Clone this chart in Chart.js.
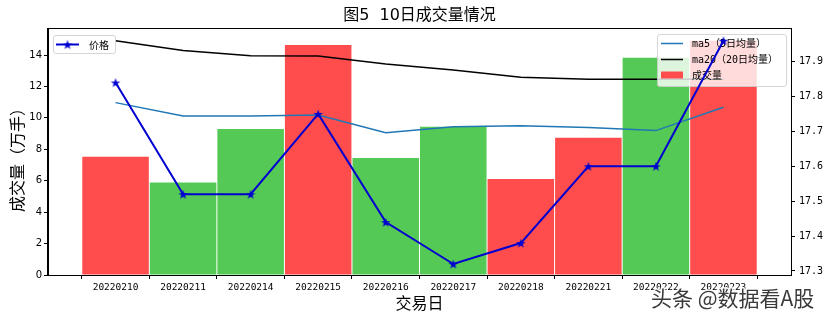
<!DOCTYPE html>
<html>
<head>
<meta charset="utf-8">
<script src="https://cdn.jsdelivr.net/npm/chart.js@4.4.1/dist/chart.umd.min.js"></script>
<style>
html,body{margin:0;padding:0;background:#fff;}
canvas{display:block;}
</style>
</head>
<body>
<canvas id="c" width="829" height="319"></canvas>
<script>
// ---- data ----
const dates = ['20220210','20220211','20220214','20220215','20220216','20220217','20220218','20220221','20220222','20220223'];
const volume = [7.53, 5.88, 9.29, 14.64, 7.45, 9.44, 6.11, 8.74, 13.83, 14.91];
const direction = ['up','down','down','up','down','down','up','up','down','up'];
const ma5 = [10.97, 10.12, 10.12, 10.18, 9.06, 9.44, 9.50, 9.38, 9.19, 10.67];
const ma20 = [14.90, 14.28, 13.96, 13.94, 13.43, 13.05, 12.58, 12.45, 12.45, 12.45];
const price = [17.84, 17.52, 17.52, 17.75, 17.44, 17.32, 17.38, 17.60, 17.60, 17.96];
const leftTicks = [0, 2, 4, 6, 8, 10, 12, 14];
const rightTicks = [17.3, 17.4, 17.5, 17.6, 17.7, 17.8, 17.9];

// ---- styles ----
const RED = '#ff4c4c', GREEN = '#55c955';
const PRICE_COLOR = '#0000d0', MA5_COLOR = '#1f77b4', MA20_COLOR = '#000000';
const MONO = '"DejaVu Sans Mono", "Noto Sans CJK SC", monospace';
const CJK = '"Noto Sans CJK SC", "DejaVu Sans", sans-serif';
const LATIN_CJK = '"DejaVu Sans", "Noto Sans CJK SC", sans-serif';

function makeStar(r, color) {
  const s = Math.ceil(r * 2) + 2;
  const c = document.createElement('canvas');
  c.width = s; c.height = s;
  const g = c.getContext('2d');
  g.translate(s / 2, s / 2 + 0.5);
  g.beginPath();
  for (let i = 0; i < 10; i++) {
    const rad = i % 2 ? r * 0.4 : r;
    const a = -Math.PI / 2 + i * Math.PI / 5;
    g.lineTo(rad * Math.cos(a), rad * Math.sin(a));
  }
  g.closePath();
  g.fillStyle = color;
  g.fill();
  return c;
}
const star = makeStar(5, PRICE_COLOR);

const toXY = arr => arr.map((v, i) => ({x: i, y: v}));

function roundRect(ctx, x, y, w, h, r) {
  ctx.beginPath();
  ctx.moveTo(x + r, y);
  ctx.lineTo(x + w - r, y);
  ctx.quadraticCurveTo(x + w, y, x + w, y + r);
  ctx.lineTo(x + w, y + h - r);
  ctx.quadraticCurveTo(x + w, y + h, x + w - r, y + h);
  ctx.lineTo(x + r, y + h);
  ctx.quadraticCurveTo(x, y + h, x, y + h - r);
  ctx.lineTo(x, y + r);
  ctx.quadraticCurveTo(x, y, x + r, y);
  ctx.closePath();
}
function legendFrame(ctx, x, y, w, h) {
  roundRect(ctx, x, y, w, h, 2.5);
  ctx.fillStyle = 'rgba(255,255,255,0.8)';
  ctx.fill();
  ctx.strokeStyle = 'rgba(204,204,204,0.8)';
  ctx.lineWidth = 1;
  ctx.stroke();
}

const decor = {
  id: 'decor',
  beforeDatasetDraw(chart, args) {
    if (args.index !== 3) return;
    // legend for volume axis (drawn under price line)
    const ctx = chart.ctx;
    ctx.save();
    legendFrame(ctx, 657.5, 34.5, 129, 52);
    ctx.lineWidth = 1.5;
    ctx.strokeStyle = MA5_COLOR;
    ctx.beginPath(); ctx.moveTo(661, 43.5); ctx.lineTo(683, 43.5); ctx.stroke();
    ctx.strokeStyle = MA20_COLOR;
    ctx.beginPath(); ctx.moveTo(661, 59.5); ctx.lineTo(683, 59.5); ctx.stroke();
    ctx.fillStyle = RED;
    ctx.fillRect(661, 71.5, 22, 7);
    ctx.fillStyle = '#000';
    ctx.font = '10px ' + MONO;
    ctx.textBaseline = 'middle';
    ctx.textAlign = 'left';
    ctx.fillText('ma5（5日均量）', 692, 44);
    ctx.fillText('ma20（20日均量）', 692, 60);
    ctx.fillText('成交量', 692, 76);
    ctx.restore();
  },
  afterDatasetsDraw(chart) {
    const ctx = chart.ctx;
    const a = chart.chartArea;
    ctx.save();
    // frame
    ctx.strokeStyle = '#000';
    ctx.lineWidth = 1;
    ctx.strokeRect(Math.round(a.left) - 0.5, Math.round(a.top) - 0.5, Math.round(a.right - a.left) + 1, Math.round(a.bottom - a.top) + 1);
    // price legend
    legendFrame(ctx, 53.5, 35.5, 62, 18);
    ctx.strokeStyle = PRICE_COLOR;
    ctx.lineWidth = 2;
    ctx.beginPath(); ctx.moveTo(56, 44.5); ctx.lineTo(79, 44.5); ctx.stroke();
    ctx.drawImage(star, 67.5 - star.width / 2, 44.5 - star.height / 2);
    ctx.fillStyle = '#000';
    ctx.font = '10px ' + CJK;
    ctx.textBaseline = 'middle';
    ctx.fillText('价格', 89, 45);
    ctx.restore();
  },
  afterDraw(chart) {
    const ctx = chart.ctx;
    const a = chart.chartArea;
    const cx = (a.left + a.right) / 2;
    ctx.save();
    ctx.fillStyle = '#000';
    ctx.textAlign = 'center';
    ctx.textBaseline = 'middle';
    ctx.font = '16px ' + LATIN_CJK;
    ctx.fillText('图5  10日成交量情况', cx, 16);
    ctx.font = '16px ' + CJK;
    ctx.fillText('交易日', cx, 303);
    ctx.save();
    ctx.translate(17, (a.top + a.bottom) / 2 + 4);
    ctx.rotate(-Math.PI / 2);
    ctx.fillText('成交量（万手）', 0, 0);
    ctx.restore();
    // watermark
    ctx.font = '21px ' + CJK;
    ctx.textAlign = 'left';
    ctx.lineJoin = 'round';
    ctx.strokeStyle = 'rgba(255,255,255,0.9)';
    ctx.lineWidth = 3;
    ctx.strokeText('头条 @数据看A股', 651, 298);
    ctx.fillStyle = '#3a3a3a';
    ctx.fillText('头条 @数据看A股', 651, 298);
    ctx.restore();
  }
};

new Chart(document.getElementById('c'), {
  type: 'bar',
  data: {
    datasets: [
      {
        type: 'bar',
        label: '成交量',
        data: toXY(volume),
        backgroundColor: direction.map(d => d === 'up' ? RED : GREEN),
        borderWidth: 0,
        barPercentage: 0.985,
        categoryPercentage: 1,
        yAxisID: 'y',
        order: 3
      },
      {
        type: 'line',
        label: 'ma5（5日均量）',
        data: toXY(ma5),
        borderColor: MA5_COLOR,
        borderWidth: 1.5,
        pointRadius: 0,
        tension: 0,
        yAxisID: 'y',
        order: 2
      },
      {
        type: 'line',
        label: 'ma20（20日均量）',
        data: toXY(ma20),
        borderColor: MA20_COLOR,
        borderWidth: 1.5,
        pointRadius: 0,
        tension: 0,
        yAxisID: 'y',
        order: 1
      },
      {
        type: 'line',
        label: '价格',
        data: toXY(price),
        borderColor: PRICE_COLOR,
        backgroundColor: PRICE_COLOR,
        borderWidth: 2,
        pointStyle: star,
        pointRadius: 5,
        tension: 0,
        yAxisID: 'y1',
        order: 0
      }
    ]
  },
  options: {
    responsive: false,
    animation: false,
    devicePixelRatio: 1,
    layout: {padding: {left: 0, right: 0, top: 29, bottom: 0}},
    plugins: {
      legend: {display: false},
      title: {display: false},
      tooltip: {enabled: false}
    },
    scales: {
      x: {
        type: 'linear',
        min: -1,
        max: 10,
        offset: false,
        afterBuildTicks: s => { s.ticks = dates.map((d, i) => ({value: i})); },
        afterFit: s => { s.height = 44; },
        grid: {drawOnChartArea: false, drawTicks: true, tickLength: 4, color: '#000'},
        border: {display: true, color: '#000', width: 1},
        ticks: {
          autoSkip: false, maxRotation: 0, minRotation: 0, padding: 3,
          color: '#000', font: {family: MONO, size: 9.5},
          callback: v => dates[v]
        }
      },
      y: {
        type: 'linear',
        position: 'left',
        min: 0,
        max: 15.655,
        afterBuildTicks: s => { s.ticks = leftTicks.map(v => ({value: v})); },
        afterFit: s => { s.width = 48; },
        grid: {drawOnChartArea: false, drawTicks: true, tickLength: 4, color: '#000'},
        border: {display: true, color: '#000', width: 1},
        ticks: {padding: 2, color: '#000', font: {family: '"DejaVu Sans", sans-serif', size: 10}, callback: v => String(v)}
      },
      y1: {
        type: 'linear',
        position: 'right',
        min: 17.2885,
        max: 17.9935,
        afterBuildTicks: s => { s.ticks = rightTicks.map(v => ({value: v})); },
        afterFit: s => { s.width = 38; },
        grid: {drawOnChartArea: false, drawTicks: true, tickLength: 4, color: '#000'},
        border: {display: true, color: '#000', width: 1},
        ticks: {padding: 4, color: '#000', font: {family: MONO, size: 10}, callback: v => v.toFixed(1)}
      }
    }
  },
  plugins: [decor]
});
</script>
</body>
</html>
